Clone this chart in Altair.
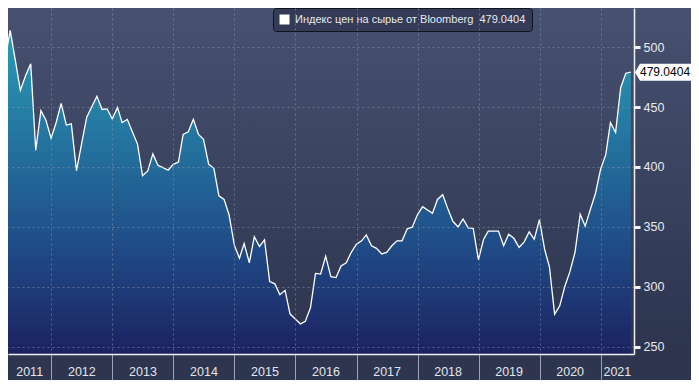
import altair as alt
import pandas as pd

# monthly index values (month-end), March 2011 .. June 2021
values = [490, 514, 489, 464, 476, 486, 414, 447, 439, 424,
          437.5, 453, 435, 436, 397, 419, 441.5, 450.5, 459, 448,
          448.5, 440, 449.7, 437, 439.7, 429.3, 419.1, 392.7, 396.7, 410.9,
          401.4, 399.5, 397.3, 402.2, 404.1, 427.2, 429.3, 439.7, 427.2, 423.1,
          402.2, 398.9, 376, 373, 360, 335, 323.9, 336.2, 320.1, 341.9,
          333.7, 339.2, 304.4, 302.5, 293.5, 297.1, 277.3, 273.2, 269.1, 271.2,
          282.6, 311.2, 310.7, 325.6, 308.5, 307.7, 317.4, 320.1, 328.8, 335.6,
          338.4, 343.3, 334.3, 332.1, 327.5, 328.8, 334.3, 338.4, 338.4, 348.4,
          349.8, 360.1, 366.9, 364.2, 361.4, 372.9, 376.9, 365.5, 354.7, 350,
          356.6, 349.2, 348.7, 322.6, 339.7, 346.5, 346.5, 346.5, 334.3, 343.8,
          340.5, 332.9, 337.3, 345.9, 339.7, 356, 331.5, 316.6, 277.2, 284,
          300.3, 312.5, 328.8, 360.6, 350.6, 364.7, 377.7, 398.1, 410.3, 437,
          428.8, 466, 478.2, 479.04]
first_month = "2011-04-01"
years = list(range(2011, 2022))
y_ticks = list(range(250, 526, 25))
series_name = "Индекс цен на сырье от Bloomberg"
last_label = "479.0404"
x_start = pd.Timestamp("2011-04-17")
x_end = pd.Timestamp("2021-07-19")
y_min, y_max = 244, 532.6

W, H = 626, 346
PAD_R, PAD_B = 57, 26
FONT = "Liberation Sans"

dates = pd.date_range(first_month, periods=len(values), freq="MS") - pd.Timedelta(days=1)
df = pd.DataFrame({
    "date": dates.strftime("%Y-%m-%dT00:00:00"),
    "v": values,
    "series": series_name + "\u00a0\u00a0" + last_label,
})
last_df = df.tail(1).assign(lbl=last_label)

# year band label positions (centre of visible part of each year)
lab_rows = []
for y in years:
    a = max(x_start, pd.Timestamp(f"{y}-01-01"))
    b = min(x_end, pd.Timestamp(f"{y + 1}-01-01"))
    lab_rows.append({"date": (a + (b - a) / 2).strftime("%Y-%m-%dT%H:%M:%S"), "year": str(y)})
lab_df = pd.DataFrame(lab_rows)


def dt(ts):
    return alt.DateTime(year=ts.year, month=ts.month, date=ts.day)


xscale = alt.Scale(domain=[dt(x_start), dt(x_end)])
yscale = alt.Scale(domain=[y_min, y_max], zero=False, nice=False)

x_axis = alt.Axis(
    values=[alt.DateTime(year=y, month=1, date=1) for y in years[1:]],
    labels=False, title=None, grid=True, gridColor="#8a93ad", gridDash=[2, 3],
    gridOpacity=0.55, tickSize=PAD_B, tickColor="#9aa2b6", tickWidth=1,
    domainColor="#f0f0f0", domainWidth=1.5, zindex=1,
)
y_axis = alt.Axis(
    orient="right", values=y_ticks, title=None,
    labelExpr="datum.value % 50 == 0 ? datum.label : ''",
    labelColor="#e8e9ee", labelFont=FONT, labelFontSize=12.5, labelPadding=3,
    tickColor="#f0f0f0", tickSize=6,
    tickWidth={"condition": {"test": "datum.value % 50 == 0", "value": 3}, "value": 1},
    grid=True, gridColor="#8a93ad", gridDash=[2, 3],
    gridOpacity={"condition": {"test": "datum.value % 50 == 0", "value": 0.55}, "value": 0},
    domainColor="#f0f0f0", domainWidth=1.5, zindex=1,
)

bg = alt.Chart(pd.DataFrame({"k": [0]})).mark_rect(
    color=alt.Gradient(
        gradient="linear", x1=0, x2=0, y1=0, y2=1,
        stops=[alt.GradientStop(color="#475170", offset=0),
               alt.GradientStop(color="#2c344e", offset=1)],
    )
).encode(x=alt.value(0), x2=alt.value(W + PAD_R + 5), y=alt.value(0), y2=alt.value(H))

base = alt.Chart(df).encode(
    x=alt.X("date:T", scale=xscale, axis=x_axis),
    y=alt.Y("v:Q", scale=yscale, axis=y_axis),
)

area = base.mark_area(
    clip=True,
    color=alt.Gradient(
        gradient="linear", x1=0, x2=0, y1=0, y2=1,
        stops=[alt.GradientStop(color="#2a9cb6", offset=0),
               alt.GradientStop(color="#236f9c", offset=0.38),
               alt.GradientStop(color="#1f4a86", offset=0.68),
               alt.GradientStop(color="#1c2260", offset=1)],
    ),
).encode(y2=alt.datum(y_min))

line = base.mark_line(clip=True, strokeWidth=1.3).encode(
    color=alt.Color(
        "series:N",
        scale=alt.Scale(range=["#ffffff"]),
        legend=alt.Legend(
            title=None, orient="none", legendX=265, legendY=0,
            symbolType="square", symbolSize=100, symbolFillColor="#ffffff",
            symbolStrokeColor="#ffffff", symbolStrokeWidth=0,
            labelColor="#e8e9ee", labelFont=FONT, labelFontSize=11,
            labelLimit=400, labelOffset=5,
            fillColor="#333b56", strokeColor="#10141e", cornerRadius=3, padding=6,
        ),
    )
)

pointer = alt.Chart(last_df).mark_point(
    shape="M0,0 L0.5,-0.85 L6,-0.85 L6,0.85 L0.5,0.85 Z",
    size=400, filled=True, fill="#ffffff", opacity=1, strokeWidth=0,
).encode(x=alt.value(W + 1), y=alt.Y("v:Q", scale=yscale))

ptext = alt.Chart(last_df).mark_text(
    align="left", baseline="middle", font=FONT, fontSize=12, color="#000000",
).encode(x=alt.value(W + 6), y=alt.Y("v:Q", scale=yscale), text="lbl:N")

ylabels = alt.Chart(lab_df).mark_text(
    align="center", baseline="alphabetic", font=FONT, fontSize=12.5, color="#e3e5ec",
).encode(x=alt.X("date:T", scale=xscale), y=alt.value(H + 22), text="year:N")

chart = alt.layer(bg, area, line, pointer, ptext, ylabels).properties(
    width=W, height=H,
    autosize=alt.AutoSizeParams(type="none"),
    padding={"left": 0, "top": 0, "right": PAD_R, "bottom": PAD_B},
    background="#2e364f",
).configure_view(stroke=None)

chart.save("out.html", embed_options={"renderer": "svg", "actions": False})
